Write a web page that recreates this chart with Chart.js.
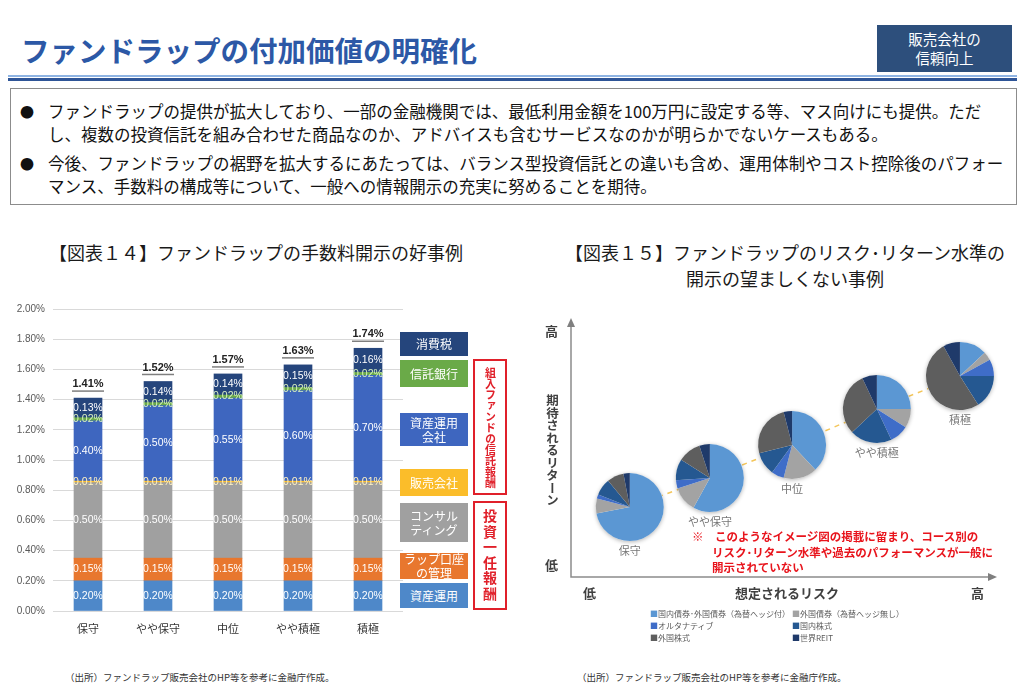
<!DOCTYPE html>
<html lang="ja">
<head>
<meta charset="utf-8">
<script src="https://cdn.jsdelivr.net/npm/chart.js@4.4.1/dist/chart.umd.min.js"></script>
<style>
  body { margin: 0; background: #fff; font-family: "Noto Sans CJK JP", "Noto Sans", sans-serif; }
  #page { position: relative; width: 1024px; height: 695px; overflow: hidden; background: #fff; }
  .abs { position: absolute; white-space: nowrap; }
  .title { left: 21px; top: 30px; font-size: 28.5px; font-weight: 700; color: #2c58a6; line-height: 40px; }
  .tag { left: 877px; top: 25px; width: 135px; height: 47px; background: #2d4f7c; color: #fff;
         font-size: 14.5px; line-height: 19px; text-align: center; padding-top: 4px; box-sizing: border-box; }
  .rule1 { left: 8px; top: 75px; width: 1009px; height: 2px; background: #8fb4e3; }
  .rule2 { left: 8px; top: 78px; width: 1009px; height: 3px; background: #2f5597; }
  .box { left: 10px; top: 88px; width: 1007px; height: 117px; border: 1px solid #8c8c8c; box-sizing: border-box; }
  .line { font-size: 16.5px; color: #111; line-height: 22px; }
  .dot { font-size: 14px; color: #111; line-height: 22px; }
  .ctitle { font-size: 18px; color: #1a1a1a; line-height: 26px; text-align: center; }
  .leg { position: absolute; left: 400px; width: 68px; color: #fff; font-size: 12px; line-height: 14px;
         display: flex; align-items: center; justify-content: center; text-align: center; }
  .redbox { position: absolute; left: 473px; width: 34px; border: 2px solid #e0202a; box-sizing: border-box;
            color: #e0202a; font-weight: 700; display: flex; align-items: center; justify-content: center; }
  .vert { writing-mode: vertical-rl; }
  .axl { font-size: 13px; font-weight: 700; color: #404040; line-height: 16px; }
  .note { font-size: 11.5px; font-weight: 700; color: #e8141c; line-height: 15px; }
  .rleg { font-size: 8px; color: #595959; line-height: 12px; }
  .src { font-size: 9.5px; color: #333; line-height: 12px; }
</style>
</head>
<body>
<div id="page">
  <div class="abs title">ファンドラップの付加価値の明確化</div>
  <div class="abs tag">販売会社の<br>信頼向上</div>
  <div class="abs rule1"></div>
  <div class="abs rule2"></div>
  <div class="abs box"></div>
  <div class="abs dot" style="left:20px;top:100px;">●</div>
  <div class="abs line" style="left:48px;top:100px;">ファンドラップの提供が拡大しており、一部の金融機関では、最低利用金額を100万円に設定する等、マス向けにも提供。ただ</div>
  <div class="abs line" style="left:48px;top:123px;">し、複数の投資信託を組み合わせた商品なのか、アドバイスも含むサービスなのかが明らかでないケースもある。</div>
  <div class="abs dot" style="left:20px;top:152px;">●</div>
  <div class="abs line" style="left:48px;top:152px;">今後、ファンドラップの裾野を拡大するにあたっては、バランス型投資信託との違いも含め、運用体制やコスト控除後のパフォー</div>
  <div class="abs line" style="left:48px;top:175px;">マンス、手数料の構成等について、一般への情報開示の充実に努めることを期待。</div>

  <div class="abs ctitle" style="left:0px;width:512px;top:239px;">【図表１４】ファンドラップの手数料開示の好事例</div>
  <div class="abs ctitle" style="left:530px;width:510px;top:239px;">【図表１５】ファンドラップのリスク･リターン水準の<br>開示の望ましくない事例</div>

  <div class="abs" style="left:0;top:295px;"><canvas id="feeChart" width="410" height="345"></canvas></div>
  <div id="feeLegend"></div>
  <div class="redbox" style="top:359px;height:136px;"><span class="vert" style="font-size:11px;line-height:13px;">組入ファンドの信託報酬</span></div>
  <div class="redbox" style="top:501px;height:109px;"><span class="vert" style="font-size:14px;line-height:16px;letter-spacing:1.5px;">投資一任報酬</span></div>

  <div class="abs" style="left:540px;top:300px;"><canvas id="riskChart" width="480" height="300"></canvas></div>
  <div class="abs axl" style="left:545px;top:323px;">高</div>
  <div class="abs axl vert" style="left:544px;top:394px;font-size:12.5px;">期待されるリターン</div>
  <div class="abs axl" style="left:545px;top:557px;">低</div>
  <div class="abs axl" style="left:583px;top:585px;">低</div>
  <div class="abs axl" style="left:735px;top:585px;width:100px;text-align:center;">想定されるリスク</div>
  <div class="abs axl" style="left:971px;top:585px;">高</div>
  <div class="abs note" style="left:692px;top:529px;">※　このようなイメージ図の掲載に留まり、コース別の</div>
  <div class="abs note" style="left:712px;top:545px;">リスク･リターン水準や過去のパフォーマンスが一般に</div>
  <div class="abs note" style="left:712px;top:560px;">開示されていない</div>
  <div id="riskLegend"></div>

  <div class="abs src" style="left:65px;top:671px;">（出所）ファンドラップ販売会社のHP等を参考に金融庁作成。</div>
  <div class="abs src" style="left:577px;top:671px;">（出所）ファンドラップ販売会社のHP等を参考に金融庁作成。</div>
</div>

<script>
// ---- 図表14: fee breakdown (% per year) ----
const courses = ['保守', 'やや保守', '中位', 'やや積極', '積極'];
const assetMgmtFee = [0.20, 0.20, 0.20, 0.20, 0.20];
const wrapAccountFee = [0.15, 0.15, 0.15, 0.15, 0.15];
const consultingFee = [0.50, 0.50, 0.50, 0.50, 0.50];
const sellerFee = [0.01, 0.01, 0.01, 0.01, 0.01];
const fundManagerFee = [0.40, 0.50, 0.55, 0.60, 0.70];
const trustBankFee = [0.02, 0.02, 0.02, 0.02, 0.02];
const consumptionTax = [0.13, 0.14, 0.14, 0.15, 0.16];
const totalFee = [1.41, 1.52, 1.57, 1.63, 1.74];
const feeTicks = [0, 0.2, 0.4, 0.6, 0.8, 1.0, 1.2, 1.4, 1.6, 1.8, 2.0];

// ---- 図表15: asset mix per course (%) ----
const assetClasses = ['国内債券･外国債券（為替ヘッジ付）', '外国債券（為替ヘッジ無し）', 'オルタナティブ', '国内株式', '外国株式', '世界REIT'];
const riskLevel = [1.38, 3.26, 5.19, 7.18, 9.13];
const returnLevel = [2.70, 3.82, 5.10, 6.49, 7.76];
const mixHoshu = [72, 7, 2, 8, 8, 3];
const mixYayaHoshu = [58, 12, 4, 10, 11, 5];
const mixChui = [38, 16, 6, 11, 25, 4];
const mixYayaSekkyoku = [25, 9, 9, 20, 30, 7];
const mixSekkyoku = [13, 4, 8, 16, 51, 8];
const courseMixes = [mixHoshu, mixYayaHoshu, mixChui, mixYayaSekkyoku, mixSekkyoku];

// styles
const feeSeries = [
  { label: '資産運用', legend: '資産運用', data: assetMgmtFee, color: '#4e88c9', text: '#ffffff', top: 583, h: 25 },
  { label: 'ラップ口座の管理', legend: 'ラップ口座<br>の管理', data: wrapAccountFee, color: '#e8772e', text: '#ffffff', top: 553, h: 26 },
  { label: 'コンサルティング', legend: 'コンサル<br>ティング', data: consultingFee, color: '#a0a0a0', text: '#ffffff', top: 503, h: 39 },
  { label: '販売会社', legend: '販売会社', data: sellerFee, color: '#fbbd2a', text: '#fff2c4', top: 469, h: 27 },
  { label: '資産運用会社', legend: '資産運用<br>会社', data: fundManagerFee, color: '#3e66bf', text: '#ffffff', top: 413, h: 33 },
  { label: '信託銀行', legend: '信託銀行', data: trustBankFee, color: '#6aaa48', text: '#d8f0c0', top: 360, h: 27 },
  { label: '消費税', legend: '消費税', data: consumptionTax, color: '#25457c', text: '#ffffff', top: 332, h: 24 }
];
const assetColors = ['#5b97d3', '#a3a3a3', '#3f6dc8', '#255891', '#5e5e5e', '#1f3a6a'];

// left legend boxes
const feeLegend = document.getElementById('feeLegend');
feeSeries.forEach(s => {
  const d = document.createElement('div');
  d.className = 'leg';
  d.style.top = s.top + 'px';
  d.style.height = s.h + 'px';
  d.style.background = s.color;
  d.innerHTML = s.legend;
  feeLegend.appendChild(d);
});

const barLabels = {
  id: 'barLabels',
  afterDatasetsDraw(chart) {
    const ctx = chart.ctx;
    ctx.save();
    ctx.textAlign = 'center';
    ctx.textBaseline = 'middle';
    ctx.font = '10.5px "Liberation Sans", Arial, sans-serif';
    chart.data.datasets.forEach((ds, i) => {
      const meta = chart.getDatasetMeta(i);
      ctx.fillStyle = feeSeries[i].text;
      meta.data.forEach((bar, j) => {
        ctx.fillText(ds.data[j].toFixed(2) + '%', bar.x, (bar.y + bar.base) / 2);
      });
    });
    // totals above each stack
    const last = chart.getDatasetMeta(chart.data.datasets.length - 1);
    ctx.font = 'bold 11px "Liberation Sans", Arial, sans-serif';
    last.data.forEach((bar, j) => {
      ctx.fillStyle = '#222';
      ctx.fillText(totalFee[j].toFixed(2) + '%', bar.x, bar.y - 14);
      ctx.strokeStyle = '#7f7f7f';
      ctx.lineWidth = 1.5;
      ctx.beginPath();
      ctx.moveTo(bar.x - 16, bar.y - 7);
      ctx.lineTo(bar.x + 16, bar.y - 7);
      ctx.stroke();
    });
    ctx.restore();
  }
};

new Chart(document.getElementById('feeChart'), {
  type: 'bar',
  data: {
    labels: courses,
    datasets: feeSeries.map(s => ({
      label: s.label,
      data: s.data,
      backgroundColor: s.color,
      borderWidth: 0,
      barThickness: 28
    }))
  },
  options: {
    responsive: false,
    animation: false,
    layout: { padding: { top: 13, right: 7, left: 0, bottom: 0 } },
    plugins: { legend: { display: false }, tooltip: { enabled: false } },
    scales: {
      x: {
        stacked: true,
        grid: { display: false },
        border: { display: false },
        ticks: { color: '#333', font: { size: 11, family: '"Noto Sans CJK JP"' }, padding: 3 },
        afterFit(scale) { scale.height = 29; }
      },
      y: {
        stacked: true,
        min: 0,
        max: 2,
        afterBuildTicks(scale) { scale.ticks = feeTicks.map(v => ({ value: v })); },
        grid: { color: '#d9d9d9', drawTicks: false },
        border: { display: false },
        ticks: {
          color: '#595959',
          padding: 8,
          font: { size: 10, family: '"Liberation Sans", Arial, sans-serif' },
          callback: v => Number(v).toFixed(2) + '%'
        },
        afterFit(scale) { scale.width = 53; }
      }
    }
  },
  plugins: [barLabels]
});

// right legend
const riskLegend = document.getElementById('riskLegend');
assetClasses.forEach((name, i) => {
  const d = document.createElement('div');
  d.className = 'abs rleg';
  d.style.left = (i % 2 === 0 ? 650 : 792) + 'px';
  d.style.top = (608 + Math.floor(i / 2) * 12) + 'px';
  d.innerHTML = '<span style="color:' + assetColors[i] + '">■</span>' + name;
  riskLegend.appendChild(d);
});

const pieMarks = {
  id: 'pieMarks',
  beforeDatasetsDraw(chart) {
    const { ctx, chartArea: a } = chart;
    ctx.save();
    ctx.strokeStyle = '#8c8c8c';
    ctx.fillStyle = '#7f7f7f';
    ctx.lineWidth = 1.5;
    ctx.beginPath();
    ctx.moveTo(a.left, a.top + 6);
    ctx.lineTo(a.left, a.bottom);
    ctx.lineTo(a.right - 6, a.bottom);
    ctx.stroke();
    ctx.beginPath();
    ctx.moveTo(a.left, a.top);
    ctx.lineTo(a.left - 4, a.top + 9);
    ctx.lineTo(a.left + 4, a.top + 9);
    ctx.fill();
    ctx.beginPath();
    ctx.moveTo(a.right, a.bottom);
    ctx.lineTo(a.right - 9, a.bottom - 4);
    ctx.lineTo(a.right - 9, a.bottom + 4);
    ctx.fill();
    ctx.restore();
  },
  afterDatasetsDraw(chart) {
    const ctx = chart.ctx;
    const xs = chart.scales.x, ys = chart.scales.y;
    const r = 34;
    ctx.save();
    courses.forEach((name, i) => {
      const cx = xs.getPixelForValue(riskLevel[i]);
      const cy = ys.getPixelForValue(returnLevel[i]);
      const mix = courseMixes[i];
      const total = mix.reduce((p, q) => p + q, 0);
      ctx.save();
      ctx.shadowColor = 'rgba(0,0,0,0.3)';
      ctx.shadowBlur = 4;
      ctx.shadowOffsetY = 1;
      ctx.fillStyle = '#ffffff';
      ctx.beginPath();
      ctx.arc(cx, cy, r, 0, Math.PI * 2);
      ctx.fill();
      ctx.restore();
      let a0 = -Math.PI / 2;
      mix.forEach((v, k) => {
        const a1 = a0 + (v / total) * Math.PI * 2;
        ctx.fillStyle = assetColors[k];
        ctx.beginPath();
        ctx.moveTo(cx, cy);
        ctx.arc(cx, cy, r, a0, a1);
        ctx.closePath();
        ctx.fill();
        a0 = a1;
      });
      ctx.fillStyle = '#767676';
      ctx.font = '11px "Noto Sans CJK JP", sans-serif';
      ctx.textAlign = 'center';
      ctx.textBaseline = 'middle';
      ctx.fillText(name, cx, cy + 44);
    });
    ctx.restore();
  }
};

new Chart(document.getElementById('riskChart'), {
  type: 'scatter',
  data: {
    datasets: [{
      data: courses.map((c, i) => ({ x: riskLevel[i], y: returnLevel[i] })),
      showLine: true,
      borderColor: '#f4c65a',
      borderWidth: 1.5,
      borderDash: [5, 5],
      pointRadius: 0
    }]
  },
  options: {
    responsive: false,
    animation: false,
    layout: { padding: { left: 31, right: 23, top: 18, bottom: 23 } },
    plugins: { legend: { display: false }, tooltip: { enabled: false } },
    scales: {
      x: { display: false, min: 0, max: 10 },
      y: { display: false, min: 0, max: 10 }
    }
  },
  plugins: [pieMarks]
});
</script>
</body>
</html>
